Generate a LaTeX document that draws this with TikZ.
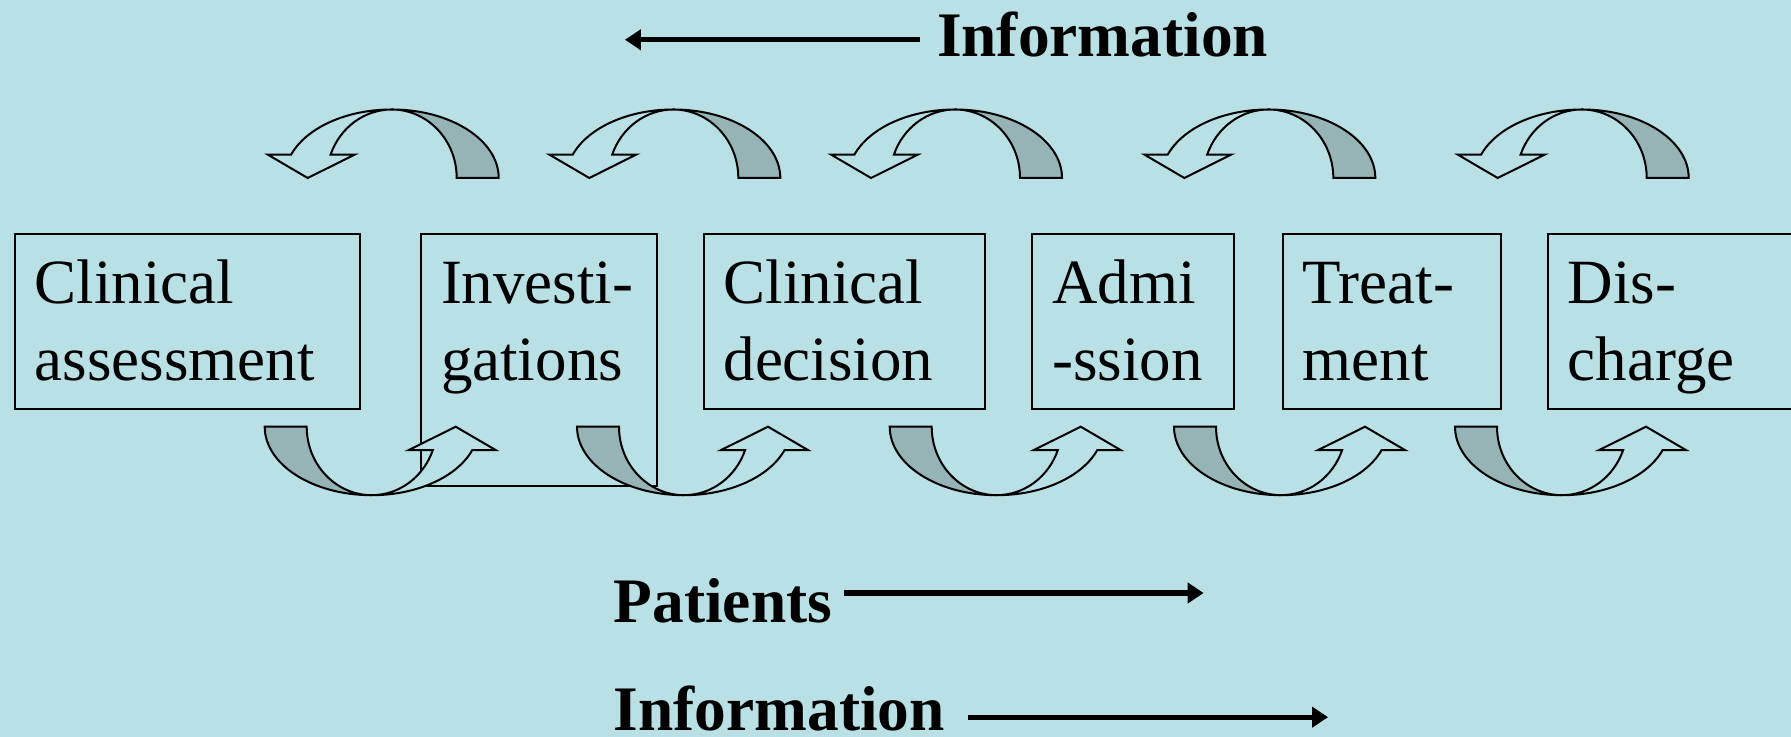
\documentclass[tikz,border=0pt]{standalone}
\usepackage{fontspec}
\setmainfont{Liberation Serif}
\usetikzlibrary{arrows.meta}

\definecolor{slide}{RGB}{185,224,228}
\definecolor{shade}{RGB}{150,180,181}

\begin{document}
\begin{tikzpicture}[x=0.5pt,y=0.5pt,
	stage/.style={draw, line width=1pt, anchor=north west, align=left,
		inner xsep=10pt, inner ysep=0pt, text height=35pt, text depth=52.5pt,
		font=\fontsize{31.5}{38.4}\selectfont},
	heading/.style={inner sep=0pt, anchor=base west, font=\fontsize{31.7}{36}\selectfont\bfseries},
	flow/.style={line width=2.6pt, -{Triangle[length=8pt,width=10pt]}},
	back/.style={draw, line width=1pt, fill=shade},
	front/.style={draw, line width=1pt, fill=slide}]
	\useasboundingbox[fill=slide] (0,0) rectangle (1791,737);

	% the stages of care
	\node[stage, text width=152.5pt] (assess) at (13.7,504) {Clinical\\assessment};
	\node[stage, text width=98pt, text depth=91pt] (invest) at (420,504) {Investi-\\gations};
	\node[stage, text width=120.5pt] (decide) at (702.5,504) {Clinical\\decision};
	\node[stage, text width=81pt] (admit) at (1031.4,504) {Admi\\-ssion};
	\node[stage, text width=89pt] (treat) at (1281.6,504) {Treat-\\ment};
	\node[stage, text width=120pt] (discharge) at (1546.7,504) {Dis-\\charge};

	% curved arrows above the stages, pointing back
	\foreach \cx in {391.7,673.3,955,1268.3,1581.7}{
		\draw[back] (\cx+107,559) arc[start angle=0,end angle=90,x radius=107,y radius=68.5]
			arc[start angle=90,end angle=0,x radius=65,y radius=68.5] -- cycle;
		\draw[front] (\cx,627.5) arc[start angle=90,end angle=160,x radius=107,y radius=68.5]
			-- (\cx-124,582.4) -- (\cx-84,559) -- (\cx-37,582.4) -- (\cx-61.1,582.4)
			arc[start angle=160,end angle=90,x radius=65,y radius=68.5] -- cycle;
	}

	% curved arrows below the stages, pointing on
	\foreach \cx in {371.7,684,996.7,1281,1562}{
		\draw[back] (\cx-107,310.3) arc[start angle=180,end angle=270,x radius=107,y radius=68.5]
			arc[start angle=270,end angle=180,x radius=65,y radius=68.5] -- cycle;
		\draw[front] (\cx,241.8) arc[start angle=270,end angle=340,x radius=107,y radius=68.5]
			-- (\cx+124,286.9) -- (\cx+84,310.3) -- (\cx+37,286.9) -- (\cx+61.1,286.9)
			arc[start angle=340,end angle=270,x radius=65,y radius=68.5] -- cycle;
	}

	% flow captions
	\node[heading] (infoback) at (936.6,680) {Information};
	\draw[flow] ([xshift=-8.5pt,yshift=-2.4pt]infoback.west) -- ++(-294.7,0);

	\node[heading] (patients) at (613.4,114.5) {Patients};
	\draw[flow] ([xshift=5.7pt,yshift=3.9pt]patients.east) -- ++(359.7,0);

	\node[heading] (infoon) at (613.4,6) {Information};
	\draw[flow] ([xshift=11.5pt,yshift=-4.1pt]infoon.east) -- ++(359.8,0);
\end{tikzpicture}
\end{document}
